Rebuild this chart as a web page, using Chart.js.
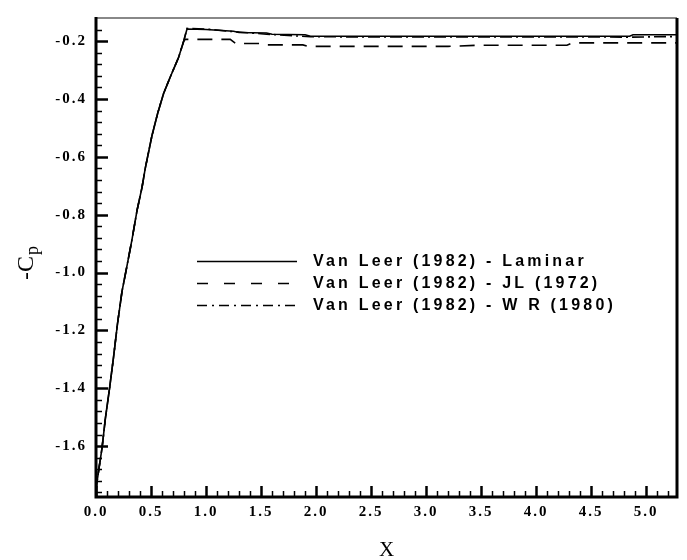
<!DOCTYPE html>
<html>
<head>
<meta charset="utf-8">
<script src="https://cdn.jsdelivr.net/npm/chart.js@4"></script>
<style>
  html, body { margin: 0; padding: 0; background: #fff; }
  #wrap { width: 687px; height: 560px; }
</style>
</head>
<body>
<div id="wrap"><canvas id="cp"></canvas></div>
<script>
// values
const riseX = [0, 0.003, 0.024, 0.055, 0.085, 0.124, 0.16, 0.195, 0.236, 0.282, 0.327, 0.373, 0.418, 0.448, 0.509, 0.56, 0.615, 0.675, 0.751, 0.797];
const riseY = [-1.775, -1.74, -1.685, -1.606, -1.505, -1.398, -1.291, -1.178, -1.066, -0.976, -0.886, -0.785, -0.706, -0.639, -0.526, -0.45, -0.38, -0.324, -0.256, -0.2];

const laminarX = [0.827, 1.0, 1.25, 1.3, 1.55, 1.6, 1.9, 1.95, 4.85, 4.88, 5.3];
const laminarY = [-0.158, -0.16, -0.166, -0.17, -0.172, -0.176, -0.178, -0.183, -0.183, -0.178, -0.178];

const jlX = [0.81, 1.22, 1.27, 1.5, 1.55, 1.88, 1.93, 3.2, 3.5, 4.28, 4.33, 5.3];
const jlY = [-0.194, -0.194, -0.208, -0.208, -0.213, -0.213, -0.218, -0.218, -0.214, -0.214, -0.206, -0.206];

const wrX = [0.827, 1.0, 1.27, 1.55, 1.95, 4.86, 5.3];
const wrY = [-0.156, -0.158, -0.168, -0.176, -0.185, -0.186, -0.184];

const seriesNames = ["Van Leer (1982) - Laminar", "Van Leer (1982) - JL (1972)", "Van Leer (1982) - W R (1980)"];

const xTicks = [0, 0.5, 1.0, 1.5, 2.0, 2.5, 3.0, 3.5, 4.0, 4.5, 5.0];
const yTicks = [-1.6, -1.4, -1.2, -1.0, -0.8, -0.6, -0.4, -0.2];
const xMinorStep = 0.1;
const yMinorStep = 0.04;

function pts(xs, ys) {
  return xs.map((x, i) => ({ x: x, y: ys[i] }));
}
const riseData = pts(riseX, riseY);

const dashes = [[], [15, 9], [12, 4, 2, 4]];
const legendDashes = [[], [11, 16], [10, 5, 2, 5]];

// frame, inward ticks, legend and axis titles
const frame = {
  id: "frame",
  beforeDraw(chart) {
    chart.ctx.letterSpacing = "2px";
  },
  afterDraw(chart) {
    const ctx = chart.ctx;
    const a = chart.chartArea;
    const xs = chart.scales.x, ys = chart.scales.y;
    ctx.save();
    ctx.letterSpacing = "0px";
    ctx.strokeStyle = "#000";
    ctx.lineWidth = 1.5;
    for (let v = Math.ceil(ys.min / yMinorStep) * yMinorStep; v <= ys.max; v += yMinorStep) {
      const py = Math.round(ys.getPixelForValue(v)) + 0.5;
      const major = yTicks.some(t => Math.abs(t - v) < 1e-6);
      ctx.lineWidth = major ? 2.5 : 1.5;
      ctx.beginPath();
      ctx.moveTo(a.left, py);
      ctx.lineTo(a.left + (major ? 12 : 6), py);
      ctx.stroke();
    }
    for (let v = 0; v <= xs.max + 1e-9; v += xMinorStep) {
      const px = Math.round(xs.getPixelForValue(v)) + 0.5;
      const major = xTicks.some(t => Math.abs(t - v) < 1e-6);
      ctx.lineWidth = major ? 2.5 : 1.5;
      ctx.beginPath();
      ctx.moveTo(px, a.bottom);
      ctx.lineTo(px, a.bottom - (major ? 11 : 6));
      ctx.stroke();
    }
    // border
    ctx.strokeStyle = "#888";
    ctx.lineWidth = 2;
    ctx.beginPath();
    ctx.moveTo(a.left, a.top);
    ctx.lineTo(a.right, a.top);
    ctx.stroke();
    ctx.strokeStyle = "#000";
    ctx.lineWidth = 3;
    ctx.beginPath();
    ctx.moveTo(a.right, a.top);
    ctx.lineTo(a.right, a.bottom);
    ctx.lineTo(a.left, a.bottom);
    ctx.lineTo(a.left, a.top - 1);
    ctx.stroke();

    // legend
    ctx.lineWidth = 1.6;
    ctx.font = 'bold 16px "Liberation Sans", Arial, sans-serif';
    ctx.letterSpacing = "3.2px";
    ctx.fillStyle = "#000";
    ctx.textBaseline = "middle";
    ctx.textAlign = "left";
    seriesNames.forEach((name, i) => {
      const y = 261.5 + i * 22;
      ctx.setLineDash(legendDashes[i]);
      ctx.beginPath();
      ctx.moveTo(197, y);
      ctx.lineTo(297, y);
      ctx.stroke();
      ctx.setLineDash([]);
      ctx.fillText(name, 313, y);
    });

    // axis titles
    ctx.letterSpacing = "0px";
    ctx.font = '21px "Liberation Serif", "Times New Roman", serif';
    ctx.textAlign = "center";
    ctx.textBaseline = "middle";
    ctx.fillText("X", (a.left + a.right) / 2, 550);

    ctx.translate(33, 280);
    ctx.rotate(-Math.PI / 2);
    ctx.textAlign = "left";
    ctx.textBaseline = "alphabetic";
    ctx.font = '24px "Liberation Serif", "Times New Roman", serif';
    ctx.fillText("-C", 0, 0);
    const w = ctx.measureText("-C").width;
    ctx.font = '18px "Liberation Serif", "Times New Roman", serif';
    ctx.fillText("p", w + 1, 5);
    ctx.restore();
  }
};

const tickFont = { family: '"Liberation Serif", "Times New Roman", serif', weight: "bold", size: 15 };

new Chart(document.getElementById("cp"), {
  type: "line",
  data: {
    datasets: [
      { label: seriesNames[0], data: riseData.concat(pts(laminarX, laminarY)) },
      { label: seriesNames[1], data: riseData.concat(pts(jlX, jlY)) },
      { label: seriesNames[2], data: riseData.concat(pts(wrX, wrY)) }
    ].map((d, i) => Object.assign(d, {
      borderColor: "#000",
      borderWidth: 1.6,
      borderDash: dashes[i],
      pointRadius: 0,
      tension: 0,
      fill: false
    }))
  },
  options: {
    responsive: true,
    maintainAspectRatio: false,
    animation: false,
    layout: { padding: { left: 0, right: 10, top: 6, bottom: 0 } },
    plugins: { legend: { display: false }, tooltip: { enabled: false } },
    scales: {
      x: {
        type: "linear",
        min: 0,
        max: 5.28,
        grid: { display: false, drawTicks: false },
        border: { display: false },
        afterBuildTicks: s => { s.ticks = xTicks.map(v => ({ value: v })); },
        afterFit: s => { s.height = 63; },
        ticks: {
          color: "#000",
          font: tickFont,
          padding: 6,
          maxRotation: 0,
          callback: v => v.toFixed(1)
        }
      },
      y: {
        type: "linear",
        min: -1.776,
        max: -0.12,
        grid: { display: false, drawTicks: false },
        border: { display: false },
        afterBuildTicks: s => { s.ticks = yTicks.map(v => ({ value: v })); },
        afterFit: s => { s.width = 96; },
        ticks: {
          color: "#000",
          font: tickFont,
          padding: 9,
          callback: v => v.toFixed(1)
        }
      }
    }
  },
  plugins: [frame]
});
</script>
</body>
</html>
